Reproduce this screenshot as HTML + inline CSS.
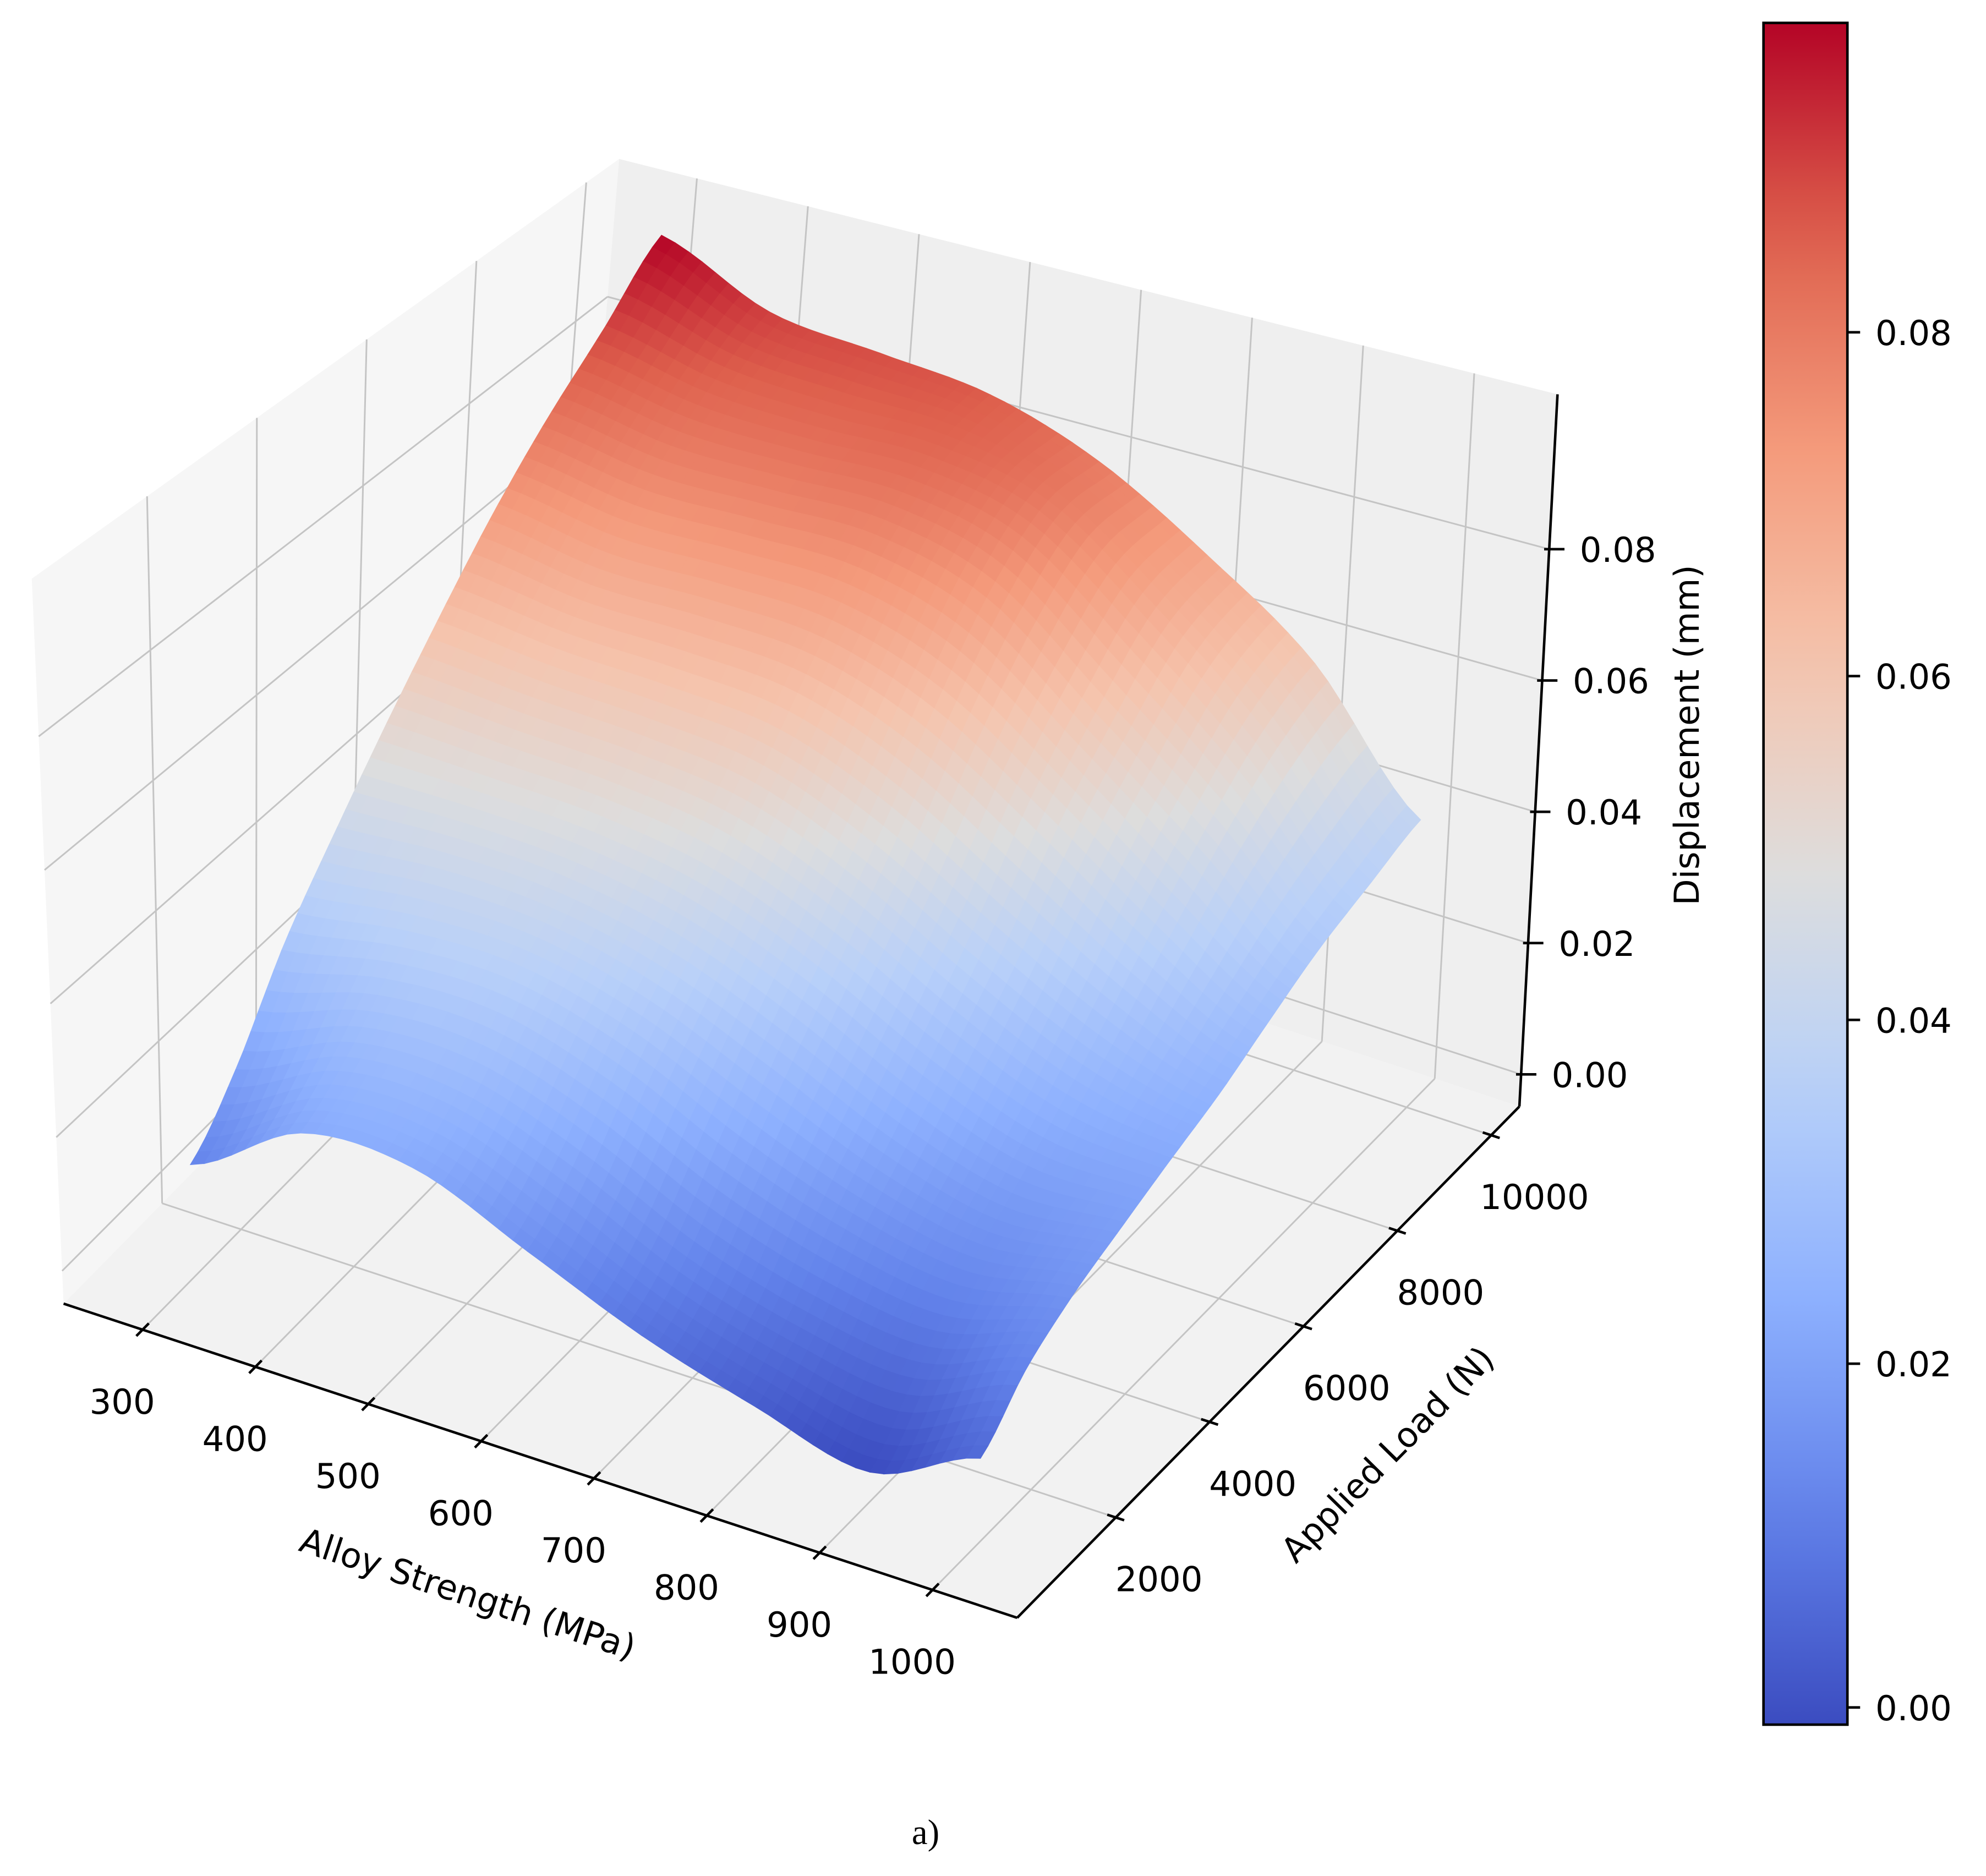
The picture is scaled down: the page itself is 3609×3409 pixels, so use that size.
<!DOCTYPE html>
<html><head><meta charset="utf-8"><style>
html,body{margin:0;padding:0;background:#fff;}
svg{display:block;}
text{font-family:"DejaVu Sans","Liberation Sans",sans-serif;fill:#000;}
</style></head><body>
<svg id="chart" xmlns="http://www.w3.org/2000/svg" width="3609" height="3409" viewBox="0 0 1562 1475" preserveAspectRatio="none">
<defs><linearGradient id="cbgrad" x1="0" y1="1" x2="0" y2="0"></linearGradient></defs>
<g id="panes"></g>
<g id="grid"></g>
<g id="surf"></g>
<g id="axes"></g>
<g id="cbar"></g>
<text x="728" y="1450" text-anchor="middle" style="font-family:'Liberation Serif',serif;font-size:28px">a)</text>
</svg>
<script>
// ---- data ----
const alloyStrength = [300, 400, 500, 600, 700, 800, 900, 1000];
const appliedLoad = [1000, 2000, 3000, 4000, 5000, 6000, 7000, 8000, 9000, 10000];
const disp1000  = [0.012, 0.022, 0.022, 0.015, 0.008, 0.003, -0.001, 0.006];
const disp2000  = [0.020, 0.027, 0.027, 0.021, 0.013, 0.008, 0.006, 0.012];
const disp3000  = [0.032, 0.035, 0.035, 0.030, 0.022, 0.016, 0.013, 0.016];
const disp4000  = [0.042, 0.043, 0.042, 0.038, 0.031, 0.023, 0.018, 0.019];
const disp5000  = [0.052, 0.051, 0.050, 0.047, 0.040, 0.031, 0.024, 0.022];
const disp6000  = [0.062, 0.060, 0.059, 0.057, 0.050, 0.040, 0.031, 0.025];
const disp7000  = [0.072, 0.069, 0.069, 0.068, 0.062, 0.051, 0.039, 0.029];
const disp8000  = [0.081, 0.078, 0.078, 0.078, 0.073, 0.060, 0.047, 0.033];
const disp9000  = [0.089, 0.085, 0.084, 0.084, 0.080, 0.068, 0.054, 0.036];
const disp10000 = [0.098, 0.090, 0.088, 0.086, 0.080, 0.070, 0.058, 0.039];
const xTicks = [300, 400, 500, 600, 700, 800, 900, 1000];
const yTicks = [2000, 4000, 6000, 8000, 10000];
const zTicks = [0.00, 0.02, 0.04, 0.06, 0.08];
const cbTicks = [0.00, 0.02, 0.04, 0.06, 0.08];

const Z = [disp1000,disp2000,disp3000,disp4000,disp5000,disp6000,disp7000,disp8000,disp9000,disp10000];
const XMIN=230, XMAX=1075, YMIN=-100, YMAX=10600, ZMIN=-0.0049, ZMAX=0.1036;
const NS='http://www.w3.org/2000/svg';
const C={ '000':[50,1025],'100':[800,1272],'110':[1195,870],'010':[445,623],
          '001':[25,455],'101':[763,640],'111':[1225,310],'011':[487,125]};
function proj(x,y,z){
  const a=(x-XMIN)/(XMAX-XMIN), b=(y-YMIN)/(YMAX-YMIN), c=(z-ZMIN)/(ZMAX-ZMIN);
  const r=[0,0];
  for(const k in C){
    const w=(k[0]==='1'?a:1-a)*(k[1]==='1'?b:1-b)*(k[2]==='1'?c:1-c);
    r[0]+=w*C[k][0]; r[1]+=w*C[k][1];
  }
  return r;
}
function mk(tag,attrs,parent){const e=document.createElementNS(NS,tag);for(const k in attrs)e.setAttribute(k,attrs[k]);parent.appendChild(e);return e;}
const cmapStops=[[0,[59,76,192]],[0.125,[98,130,234]],[0.25,[141,176,254]],[0.375,[184,208,249]],[0.5,[221,221,221]],[0.625,[245,196,173]],[0.75,[244,154,123]],[0.875,[222,96,77]],[1,[180,4,38]]];
function cmap(t){t=Math.max(0,Math.min(1,t));for(let i=1;i<cmapStops.length;i++){if(t<=cmapStops[i][0]){const [t0,c0]=cmapStops[i-1],[t1,c1]=cmapStops[i];const f=(t-t0)/(t1-t0);return 'rgb('+c0.map((v,j)=>Math.round(v+(c1[j]-v)*f)).join(',')+')';}}return 'rgb(180,4,38)';}
let vmin=Infinity,vmax=-Infinity;Z.forEach(r=>r.forEach(v=>{vmin=Math.min(vmin,v);vmax=Math.max(vmax,v);}));

// panes
const panes=document.getElementById('panes');
function poly(keys,fill,name){const p=mk('polygon',{points:keys.map(k=>C[k].join(',')).join(' '),fill:fill},panes);}
poly(['001','000','010','011'],'#f6f6f6','left-pane');
poly(['010','110','111','011'],'#efefef','back-pane');
poly(['000','100','110','010'],'#f2f2f2','floor-pane');
// gridlines
const grid=document.getElementById('grid');
function line(p,q,parent,stroke,w,name){const l=mk('line',{x1:p[0],y1:p[1],x2:q[0],y2:q[1],stroke:stroke,'stroke-width':w},parent);return l;}
xTicks.forEach(x=>{line(proj(x,YMIN,ZMIN),proj(x,YMAX,ZMIN),grid,'#c4c4c4',1.3,'floor-grid-x');line(proj(x,YMAX,ZMIN),proj(x,YMAX,ZMAX),grid,'#c4c4c4',1.3,'back-grid-x');});
yTicks.forEach(y=>{line(proj(XMIN,y,ZMIN),proj(XMAX,y,ZMIN),grid,'#c4c4c4',1.3,'floor-grid-y');line(proj(XMIN,y,ZMIN),proj(XMIN,y,ZMAX),grid,'#c4c4c4',1.3,'left-grid-y');});
zTicks.forEach(z=>{line(proj(XMIN,YMIN,z),proj(XMIN,YMAX,z),grid,'#c4c4c4',1.3,'left-grid-z');line(proj(XMIN,YMAX,z),proj(XMAX,YMAX,z),grid,'#c4c4c4',1.3,'back-grid-z');});

// surface: Catmull-Rom upsampling of data grid
function cr(p0,p1,p2,p3,t){return 0.5*((2*p1)+(-p0+p2)*t+(2*p0-5*p1+4*p2-p3)*t*t+(-p0+3*p1-3*p2+p3)*t*t*t);}
function zAt(u,v){
  const nx=alloyStrength.length, ny=appliedLoad.length;
  const g=(i,j)=>Z[Math.max(0,Math.min(ny-1,j))][Math.max(0,Math.min(nx-1,i))];
  let i=Math.min(Math.floor(u),nx-2), j=Math.min(Math.floor(v),ny-2); const tu=u-i, tv=v-j;
  const rows=[];for(let k=-1;k<=2;k++)rows.push(cr(g(i-1,j+k),g(i,j+k),g(i+1,j+k),g(i+2,j+k),tu));
  return cr(rows[0],rows[1],rows[2],rows[3],tv);
}
const N=56, surf=document.getElementById('surf');
const nx=alloyStrength.length, ny=appliedLoad.length;
const P=[];
for(let j=0;j<=N;j++){P.push([]);for(let i=0;i<=N;i++){const u=i/N*(nx-1),v=j/N*(ny-1);
  const x=alloyStrength[0]+(alloyStrength[nx-1]-alloyStrength[0])*i/N, y=appliedLoad[0]+(appliedLoad[ny-1]-appliedLoad[0])*j/N;
  const z=zAt(u,v);P[j].push({x,y,z,s:proj(x,y,z)});}}
const quads=[];
for(let j=0;j<N;j++)for(let i=0;i<N;i++){const a=P[j][i],b=P[j][i+1],c=P[j+1][i+1],d=P[j+1][i];
  const zc=(a.z+b.z+c.z+d.z)/4;const f=proj((a.x+c.x)/2,(a.y+c.y)/2,ZMIN);quads.push({pts:[a.s,b.s,c.s,d.s],zc,depth:f[1]});}
quads.sort((p,q)=>p.depth-q.depth);
quads.forEach(q=>{const col=cmap((q.zc-vmin)/(vmax-vmin));
  const el=mk('polygon',{points:q.pts.map(p=>p[0].toFixed(1)+','+p[1].toFixed(1)).join(' '),fill:col,stroke:col,'stroke-width':0.6},surf);
  
  });

// axes
const ax=document.getElementById('axes');
line(C['000'],C['100'],ax,'#000',2,'x-axis-line');
line(C['100'],C['110'],ax,'#000',2,'y-axis-line');
line(C['110'],C['111'],ax,'#000',2,'z-axis-line');
function txt(x,y,s,parent,name,extra){const t=mk('text',Object.assign({x:x,y:y,'font-size':27},extra||{}),parent);t.textContent=s;return t;}
const ey=[-395,402],eyl=Math.hypot(ey[0],ey[1]);
xTicks.forEach(x=>{const p=proj(x,YMIN,ZMIN);line([p[0]+ey[0]/eyl*7,p[1]+ey[1]/eyl*7],[p[0]-ey[0]/eyl*7,p[1]-ey[1]/eyl*7],ax,'#000',2,'x-tick');
  txt(p[0]-16,p[1]+66,String(x),ax,'x-tick-label',{'text-anchor':'middle'});});
const ex=[750,247],exl=Math.hypot(ex[0],ex[1]);
yTicks.forEach(y=>{const p=proj(XMAX,y,ZMIN);line([p[0]-ex[0]/exl*7,p[1]-ex[1]/exl*7],[p[0]+ex[0]/exl*7,p[1]+ex[1]/exl*7],ax,'#000',2,'y-tick');
  txt(p[0]+34,p[1]+58,String(y),ax,'y-tick-label',{'text-anchor':'middle'});});
zTicks.forEach(z=>{const p=proj(XMAX,YMAX,z);line([p[0]-4,p[1]],[p[0]+12,p[1]],ax,'#000',2,'z-tick');
  txt(p[0]+24,p[1]+10,z.toFixed(2),ax,'z-tick-label');});
txt(0,0,'Alloy Strength (MPa)',ax,'x-axis-title',{'text-anchor':'middle',transform:'translate(365,1262) rotate(18.2)'});
txt(0,0,'Applied Load (N)',ax,'y-axis-title',{'text-anchor':'middle',transform:'translate(1098,1150) rotate(-45.5)'});
txt(0,0,'Displacement (mm)',ax,'z-axis-title',{'text-anchor':'middle',transform:'translate(1336,578) rotate(-90)'});

// colorbar
const grad=document.getElementById('cbgrad');
for(let k=0;k<=20;k++){const t=k/20;mk('stop',{offset:t,'stop-color':cmap(t)},grad);}
const cb=document.getElementById('cbar');const CB_TOP=18,CB_BOT=1356,CB_L=1387,CB_R=1453;
const cbRect=mk('rect',{x:CB_L,y:CB_TOP,width:CB_R-CB_L,height:CB_BOT-CB_TOP,fill:'url(#cbgrad)',stroke:'#000','stroke-width':2},cb);


function cbY(v){return CB_BOT-(v-vmin)/(vmax-vmin)*(CB_BOT-CB_TOP);}
cbTicks.forEach(v=>{const y=cbY(v);line([CB_R,y],[CB_R+10,y],cb,'#000',2,'colorbar-tick');txt(CB_R+22,y+10,v.toFixed(2),cb,'colorbar-tick-label');});
</script>
</body></html>
